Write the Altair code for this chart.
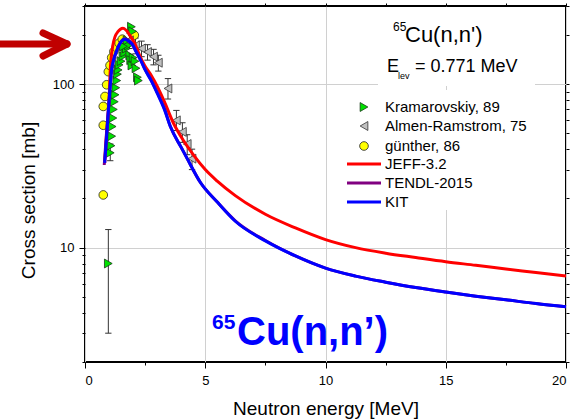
import altair as alt
import pandas as pd

# ---------------- data ----------------
jeff_x = [0.82, 0.9, 1.0, 1.05, 1.16, 1.25, 1.37, 1.47, 1.58, 1.7, 1.86, 2.07, 2.27, 2.48, 2.75, 3.0,
          3.3, 3.67, 4.1, 4.5, 5.0, 5.5, 6.25, 7.5, 8.75, 10.0, 11.25, 12.5, 13.75, 15.0, 16.25,
          17.5, 18.75, 20.0]
jeff_y = [33, 50, 80, 122, 173, 195, 209, 216, 219, 214, 199, 177, 150, 130, 113, 97,
          78, 58, 45, 37, 30, 25.5, 20.8, 16.0, 13.2, 11.2, 10.0, 9.25, 8.7, 8.2, 7.8,
          7.4, 7.05, 6.7]

kit_x = [0.82, 0.9, 1.0, 1.1, 1.2, 1.3, 1.4, 1.5, 1.65, 1.8, 1.95, 2.13, 2.34, 2.5, 2.75, 3.0,
         3.3, 3.55, 4.0, 4.25, 4.8, 5.5, 6.25, 7.5, 8.75, 10.0, 11.25, 12.5, 13.75, 15.0, 16.25,
         17.5, 18.75, 20.0]
kit_y = [33, 48, 78, 120, 142, 157, 171, 181, 188, 184, 176, 157, 137, 122, 105, 88,
         70, 55, 41, 35, 25, 19, 14.5, 11.0, 8.9, 7.5, 6.7, 6.15, 5.7, 5.35, 5.05,
         4.8, 4.55, 4.35]

tendl_x = [0.8, 0.88, 1.0, 1.1, 1.2, 1.3, 1.4, 1.5, 1.65, 1.8, 1.95, 2.13, 2.34, 2.5, 2.75, 3.0,
           3.3, 3.55, 4.0, 4.25, 4.8, 5.5, 6.25, 7.5, 8.75, 10.0, 11.25, 12.5, 13.75, 15.0, 16.25,
           17.5, 18.75, 20.0]
tendl_y = [32, 47, 80, 121, 143, 158, 172, 182, 189, 185, 177, 158, 138, 123, 106, 89,
           71, 55, 41, 35, 25, 19, 14.6, 11.05, 8.9, 7.5, 6.7, 6.15, 5.7, 5.35, 5.05,
           4.8, 4.55, 4.35]

kram_x = [0.97, 1.05, 1.08, 1.11, 1.13, 1.16, 1.18, 1.22, 1.25, 1.28, 1.32, 1.35, 1.38, 1.42,
          1.5, 1.58, 1.65, 1.72, 1.8, 1.86, 1.9, 1.95, 2.0, 2.08, 2.12, 2.18, 2.22, 1.93, 1.98,
          1.75, 1.6]
kram_y = [8.0, 38, 42, 48, 55, 62, 70, 78, 86, 95, 105, 115, 122, 131,
          138, 148, 156, 165, 172, 150, 140, 130, 145, 138, 125, 110, 105, 224, 210,
          185, 170]
kram_err_x = [0.97, 1.05]
kram_err_lo = [3.0, 34]
kram_err_hi = [12.9, 43]

almen_x = [1.85, 2.1, 2.35, 2.6, 2.85, 3.05, 3.45, 3.8, 4.05, 4.25, 4.45]
almen_y = [185, 172, 165, 157, 147, 135, 94, 60, 51, 43, 35]
almen_lo = [165, 153, 147, 140, 131, 120, 81, 52, 44, 37, 30]
almen_hi = [205, 191, 183, 174, 163, 150, 108, 69, 58, 49, 40]

gunther_x = [0.76, 0.76, 0.76, 0.83, 0.9, 0.97, 1.04, 1.11, 1.2, 1.3, 1.42, 1.55, 2.05]
gunther_y = [21, 56, 73, 84, 99, 119, 130, 145, 158, 168, 178, 188, 199]

x_major = [0, 5, 10, 15, 20]
x_minor = [2.5, 7.5, 12.5, 17.5]
y_major = [10, 100]
y_minor = [2, 3, 4, 5, 6, 7, 8, 9, 20, 30, 40, 50, 60, 70, 80, 90, 200, 300]

legend_labels = ["Kramarovskiy, 89", "Almen-Ramstrom, 75", "günther, 86", "JEFF-3.2", "TENDL-2015", "KIT"]

FONT = "Liberation Sans"
RED, PURPLE, BLUE = "#ff0000", "#800080", "#0000ff"
GREEN, GRAY, YELLOW = "#00e000", "#c0c0c0", "#ffff00"

xs = alt.Scale(domain=[0, 20], nice=False, zero=False)
ys = alt.Scale(type="log", domain=[2, 300], nice=False)

jeff = pd.DataFrame({"x": jeff_x, "y": jeff_y})
kit = pd.DataFrame({"x": kit_x, "y": kit_y})
tendl = pd.DataFrame({"x": tendl_x, "y": tendl_y})
kram = pd.DataFrame({"x": kram_x, "y": kram_y})
kram_err = pd.DataFrame({"x": kram_err_x, "lo": kram_err_lo, "hi": kram_err_hi})
almen = pd.DataFrame({"x": almen_x, "y": almen_y, "lo": almen_lo, "hi": almen_hi})
gunther = pd.DataFrame({"x": gunther_x, "y": gunther_y})
err_all = pd.concat([kram_err, almen[["x", "lo", "hi"]]], ignore_index=True)

ax_x_major = alt.Axis(orient="bottom", values=x_major, grid=True, gridColor="#d0d0d0", gridWidth=1,
                      tickSize=6, tickColor="black", labelPadding=6, labelFontSize=13, labelFont=FONT,
                      labelColor="black", domain=False, title="Neutron energy [MeV]",
                      titleFont=FONT, titleFontSize=19, titleFontWeight="normal", titleColor="black",
                      titlePadding=12)
ax_y_major = alt.Axis(orient="left", values=y_major, grid=True, gridColor="#d0d0d0", gridWidth=1,
                      tickSize=6, tickColor="black", labelPadding=5, labelFontSize=13, labelFont=FONT,
                      labelColor="black", domain=False, format="d", title="Cross section [mb]",
                      titleFont=FONT, titleFontSize=19, titleFontWeight="normal", titleColor="black",
                      titleX=-47, titleY=194)
ax_x_minor = alt.Axis(orient="bottom", values=x_minor, grid=False, tickSize=3, tickColor="black",
                      labels=False, domain=False, title=None)
ax_y_minor = alt.Axis(orient="left", values=y_minor, grid=False, tickSize=3, tickColor="black",
                      labels=False, domain=False, title=None)
ax_x_top = alt.Axis(orient="top", values=x_major + x_minor, grid=False, tickSize=3, tickColor="black",
                    labels=False, domain=False, title=None)
ax_y_right = alt.Axis(orient="right", values=y_major + y_minor, grid=False, tickSize=3, tickColor="black",
                      labels=False, domain=False, title=None)

# white boxes (title box and legend box)
title_box = alt.Chart(pd.DataFrame({"a": [0]})).mark_rect(fill="white").encode(
    x=alt.value(293), x2=alt.value(450), y=alt.value(1), y2=alt.value(80))
legend_box = alt.Chart(pd.DataFrame({"a": [0]})).mark_rect(fill="white").encode(
    x=alt.value(252), x2=alt.value(476), y=alt.value(84), y2=alt.value(204))

# error bars
err_rules = alt.Chart(err_all).mark_rule(color="#333333", strokeWidth=1).encode(
    x=alt.X("x:Q", scale=xs, axis=ax_x_top),
    y=alt.Y("lo:Q", scale=ys, axis=ax_y_right),
    y2="hi:Q")
cap_lo = alt.Chart(err_all).mark_point(shape="stroke", size=40, stroke="#333333", strokeWidth=1,
                                       opacity=1).encode(
    x=alt.X("x:Q", scale=xs, axis=None), y=alt.Y("lo:Q", scale=ys, axis=None))
cap_hi = alt.Chart(err_all).mark_point(shape="stroke", size=40, stroke="#333333", strokeWidth=1,
                                       opacity=1).encode(
    x=alt.X("x:Q", scale=xs, axis=None), y=alt.Y("hi:Q", scale=ys, axis=None))

gunther_pts = alt.Chart(gunther).mark_point(shape="circle", size=75, filled=True, fill=YELLOW,
                                            stroke="#222222", strokeWidth=0.8, opacity=1).encode(
    x=alt.X("x:Q", scale=xs, axis=None), y=alt.Y("y:Q", scale=ys, axis=None))
kram_pts = alt.Chart(kram).mark_point(shape="triangle-right", size=80, filled=True, fill=GREEN,
                                      stroke="#1a3a1a", strokeWidth=0.8, opacity=1).encode(
    x=alt.X("x:Q", scale=xs, axis=ax_x_minor), y=alt.Y("y:Q", scale=ys, axis=ax_y_minor))
almen_pts = alt.Chart(almen).mark_point(shape="triangle-left", size=80, filled=True, fill=GRAY,
                                        stroke="#333333", strokeWidth=0.8, opacity=1).encode(
    x=alt.X("x:Q", scale=xs, axis=None), y=alt.Y("y:Q", scale=ys, axis=None))

jeff_line = alt.Chart(jeff).mark_line(color=RED, strokeWidth=3, interpolate="monotone").encode(
    x=alt.X("x:Q", scale=xs, axis=ax_x_major), y=alt.Y("y:Q", scale=ys, axis=ax_y_major))
tendl_line = alt.Chart(tendl).mark_line(color=PURPLE, strokeWidth=3, interpolate="monotone").encode(
    x=alt.X("x:Q", scale=xs, axis=None), y=alt.Y("y:Q", scale=ys, axis=None))
kit_line = alt.Chart(kit).mark_line(color=BLUE, strokeWidth=3, interpolate="monotone").encode(
    x=alt.X("x:Q", scale=xs, axis=None), y=alt.Y("y:Q", scale=ys, axis=None))

one = pd.DataFrame({"a": [0]})


def txt(s, x, y, size, color="black", weight="normal", align="left", baseline="alphabetic"):
    return alt.Chart(one).mark_text(text=s, font=FONT, fontSize=size, color=color, fontWeight=weight,
                                    align=align, baseline=baseline).encode(
        x=alt.value(x), y=alt.value(y))


# title texts in the upper-right box
titles = [
    txt("65", 308, 25, 12),
    txt("Cu(n,n')", 320, 36, 22),
    txt("E", 302, 66, 18),
    txt("lev", 313, 73, 9),
    txt("= 0.771 MeV", 330, 66, 18),
    txt("65", 127, 323, 21, color=BLUE, weight="bold"),
    txt("Cu(n,n’)", 152, 339, 40, color=BLUE, weight="bold"),
]

# manual legend
leg_rows = [101, 120, 140, 158, 177, 196]
leg_layers = []
leg_layers.append(alt.Chart(one).mark_point(shape="triangle-right", size=80, filled=True, fill=GREEN,
                                            stroke="#1a3a1a", strokeWidth=0.8, opacity=1).encode(
    x=alt.value(279), y=alt.value(leg_rows[0])))
leg_layers.append(alt.Chart(one).mark_point(shape="triangle-left", size=80, filled=True, fill=GRAY,
                                            stroke="#333333", strokeWidth=0.8, opacity=1).encode(
    x=alt.value(279), y=alt.value(leg_rows[1])))
leg_layers.append(alt.Chart(one).mark_point(shape="circle", size=75, filled=True, fill=YELLOW,
                                            stroke="#222222", strokeWidth=0.8, opacity=1).encode(
    x=alt.value(279), y=alt.value(leg_rows[2])))
for col, row in zip([RED, PURPLE, BLUE], leg_rows[3:]):
    leg_layers.append(alt.Chart(one).mark_rule(color=col, strokeWidth=3).encode(
        x=alt.value(262), x2=alt.value(296), y=alt.value(row)))
for lab, row in zip(legend_labels, leg_rows):
    leg_layers.append(txt(lab, 300, row, 15, baseline="middle"))

# red arrow outside the plot (top-left)
ARROW = "#c00000"
arrow = [
    alt.Chart(one).mark_rule(color=ARROW, strokeWidth=7, strokeCap="round").encode(
        x=alt.value(-88), x2=alt.value(-21), y=alt.value(38)),
    alt.Chart(one).mark_rule(color=ARROW, strokeWidth=7, strokeCap="round").encode(
        x=alt.value(-42), x2=alt.value(-18), y=alt.value(27), y2=alt.value(38)),
    alt.Chart(one).mark_rule(color=ARROW, strokeWidth=7, strokeCap="round").encode(
        x=alt.value(-42), x2=alt.value(-18), y=alt.value(50), y2=alt.value(38)),
]

chart = alt.layer(
    title_box, legend_box,
    err_rules, cap_lo, cap_hi,
    gunther_pts, kram_pts, almen_pts,
    jeff_line, tendl_line, kit_line,
    *titles, *leg_layers, *arrow,
).resolve_axis(x="independent", y="independent").properties(
    width=481, height=356,
    autosize=alt.AutoSizeParams(type="none"),
    padding={"left": 85, "top": 6, "right": 13, "bottom": 58},
    background="white",
).configure_view(stroke="black", strokeWidth=2)

chart.save("out.html", embed_options={"renderer": "svg", "actions": False})
